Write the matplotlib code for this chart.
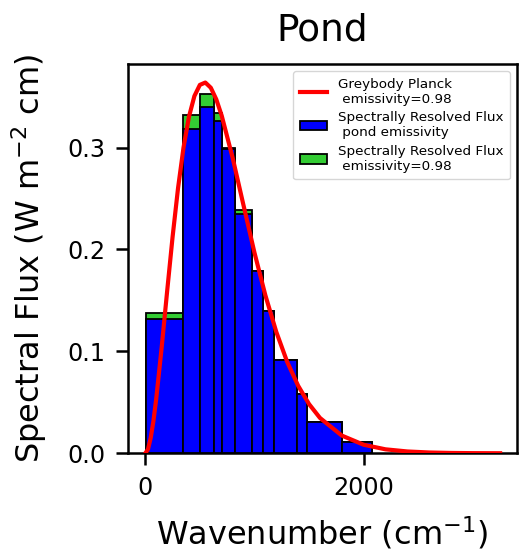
import numpy as np
import matplotlib
matplotlib.use("Agg")
import matplotlib.pyplot as plt

# band edges (cm^-1)
band_edges = [10, 350, 500, 630, 700, 820, 980, 1080, 1180, 1390, 1480, 1800, 2080]
# band-mean spectral flux, pond emissivity (blue)
flux_pond = [0.1316, 0.3182, 0.3400, 0.3262, 0.2984, 0.2352, 0.1789, 0.1396, 0.0916, 0.0579, 0.0304, 0.0108]
# band-mean spectral flux, emissivity 0.98 (green)
flux_098 = [0.1377, 0.3315, 0.3525, 0.3338, 0.2992, 0.2385, 0.1792, 0.1398, 0.0917, 0.0580, 0.0305, 0.0108]

# greybody Planck curve
wn = [0, 25, 50, 75, 100, 150, 200, 250, 300, 350, 400, 450, 500, 550, 600, 650, 700,
      800, 900, 1000, 1100, 1200, 1300, 1400, 1500, 1600, 1800, 2000, 2200, 2400,
      2600, 2800, 3000, 3250]
planck = [0.0, 0.0040, 0.0153, 0.0320, 0.0533, 0.1038, 0.1588, 0.2123, 0.2602, 0.2999,
          0.3302, 0.3506, 0.3615, 0.3638, 0.3587, 0.3474, 0.3313, 0.2900, 0.2432,
          0.1969, 0.1550, 0.1191, 0.0896, 0.0663, 0.0483, 0.0347, 0.0174, 0.0084,
          0.0039, 0.0018, 0.0008, 0.00035, 0.00015, 0.00005]

W, H, DPI = 519, 552, 100
fig = plt.figure(figsize=(W / DPI, H / DPI), dpi=DPI)
ax = fig.add_axes([127.6 / W, 1 - 453.3 / H, (516.7 - 127.6) / W, (453.3 - 64.3) / H])

left = band_edges[:-1]
widths = np.diff(band_edges)

line, = ax.plot(wn, planck, color="red", lw=3.0, zorder=4,
                label="Greybody Planck\n emissivity=0.98")
b_green = ax.bar(left, flux_098, width=widths, align="edge", color="#33cc33",
                 edgecolor="black", linewidth=1.3, zorder=2,
                 label="Spectrally Resolved Flux\n emissivity=0.98")
b_blue = ax.bar(left, flux_pond, width=widths, align="edge", color="blue",
                edgecolor="black", linewidth=1.3, zorder=3,
                label="Spectrally Resolved Flux\n pond emissivity")

ax.set_ylim(0, 0.3817)
ax.set_xlim(-162, 3402)
ax.set_xticks([0, 2000])
ax.set_yticks([0.0, 0.1, 0.2, 0.3])

for s in ax.spines.values():
    s.set_linewidth(1.8)
ax.tick_params(labelsize=17.2, length=8.6, width=1.8, pad=7.5)

ax.set_title("Pond", fontsize=27, pad=17)
ax.set_xlabel("Wavenumber (cm$^{-1}$)", fontsize=23, labelpad=11)
ax.set_ylabel("Spectral Flux (W m$^{-2}$ cm)", fontsize=23, labelpad=13)

ax.legend(handles=[line, b_blue, b_green], loc="upper right", fontsize=9.7,
          handlelength=2.0, borderpad=0.5, labelspacing=0.4)

fig.savefig("out.png", dpi=DPI)
